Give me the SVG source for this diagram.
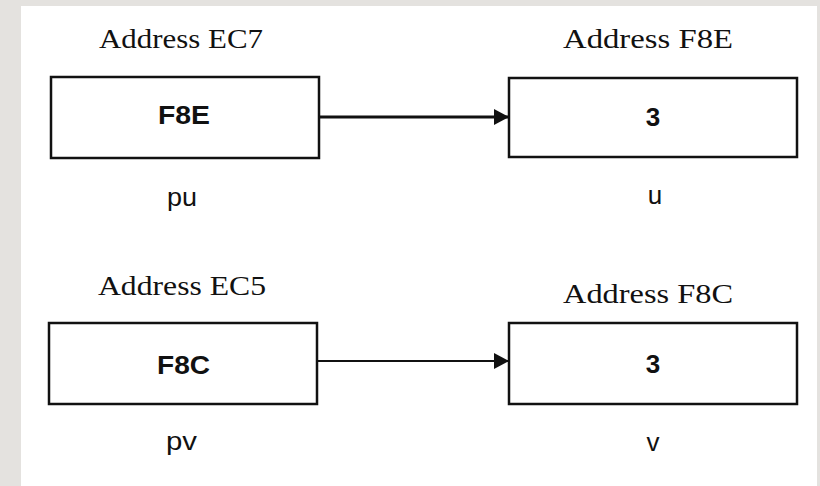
<svg xmlns="http://www.w3.org/2000/svg" width="820" height="486" viewBox="0 0 820 486">
<defs>
<style>
.bg{fill:#e4e2df}
.box{fill:#fff;stroke:#111;stroke-width:2.5}
.addr{font-family:"Liberation Serif","Times New Roman",serif;font-size:27px;fill:#111}
.val{font-family:"Liberation Sans",Arial,sans-serif;font-size:26px;font-weight:bold;fill:#111}
.name{font-family:"Liberation Sans",Arial,sans-serif;font-size:26px;fill:#111}
.edge{stroke:#111;fill:none}
</style>
<marker id="ah" viewBox="0 0 15 16" refX="15" refY="8" markerWidth="15" markerHeight="16" markerUnits="userSpaceOnUse" orient="auto">
<path d="M0,0 L15,8 L0,16 Z" fill="#111"/>
</marker>
</defs>
<rect class="bg" x="0" y="0" width="820" height="486"/>
<rect x="21" y="6" width="796" height="480" fill="#fff"/>
<g id="pu">
<text class="addr" x="99" y="48" textLength="164" lengthAdjust="spacingAndGlyphs">Address EC7</text>
<rect class="box" x="51" y="77" width="268" height="81"/>
<text class="val" x="158" y="124" textLength="52" lengthAdjust="spacingAndGlyphs">F8E</text>
<text class="name" x="167" y="206" textLength="30" lengthAdjust="spacingAndGlyphs">pu</text>
</g>
<g id="u">
<text class="addr" x="563" y="48" textLength="170" lengthAdjust="spacingAndGlyphs">Address F8E</text>
<rect class="box" x="509" y="78" width="288" height="79"/>
<text class="val" x="653" y="126" text-anchor="middle" font-size="28">3</text>
<text class="name" x="655" y="204" text-anchor="middle" font-size="29">u</text>
</g>
<g id="pv">
<text class="addr" x="98" y="295" textLength="168" lengthAdjust="spacingAndGlyphs">Address EC5</text>
<rect class="box" x="49" y="323" width="268" height="81"/>
<text class="val" x="157" y="374" textLength="53" lengthAdjust="spacingAndGlyphs">F8C</text>
<text class="name" x="166" y="450" textLength="31" lengthAdjust="spacingAndGlyphs">pv</text>
</g>
<g id="v">
<text class="addr" x="563" y="303" textLength="170" lengthAdjust="spacingAndGlyphs">Address F8C</text>
<rect class="box" x="509" y="323" width="288" height="81"/>
<text class="val" x="653" y="373" text-anchor="middle" font-size="28">3</text>
<text class="name" x="653" y="451" text-anchor="middle">v</text>
</g>
<g id="connectors">
<line class="edge" x1="319" y1="117" x2="509" y2="117" stroke-width="3" marker-end="url(#ah)"/>
<line class="edge" x1="317" y1="361" x2="509" y2="361" stroke-width="2" marker-end="url(#ah)"/>
</g>
</svg>
